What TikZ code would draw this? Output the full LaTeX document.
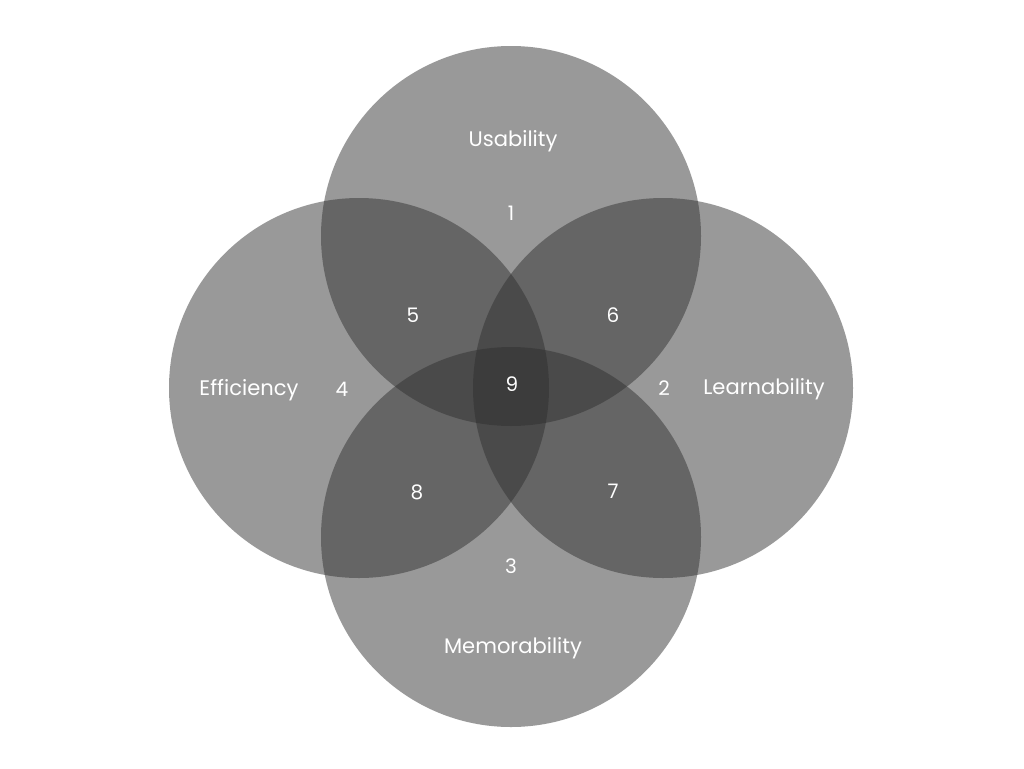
\documentclass[tikz,border=0pt]{standalone}
\usepackage{fontspec}
\setmainfont{Poppins}
\definecolor{setfill}{RGB}{47,47,47}
\begin{document}
\begin{tikzpicture}[x=0.75pt,y=-0.75pt,
  setcircle/.style={circle,minimum size=285pt,inner sep=0pt,fill=setfill,fill opacity=0.485,draw=none},
  lbl/.style={text=white,font=\fontsize{15.8}{18}\selectfont,inner sep=0pt},
  num/.style={text=white,font=\fontsize{15}{17}\selectfont,inner sep=0pt}]
\useasboundingbox[fill=white] (0,0) rectangle (1024,768);
\node[setcircle] (usab) at (511,236) {};
\node[setcircle] (effi) at (359,388) {};
\node[setcircle] (lear) at (663,388) {};
\node[setcircle] (memo) at (511,537) {};
\node[lbl] (tU) at (513,141) {Usability};
\node[lbl] (tE) at (249,390) {Efficiency};
\node[lbl] (tL) at (764,389) {Learnability};
\node[lbl] (tM) at (513,648) {Memorability};
\node[num] (n1) at (511,213) {1};
\node[num] (n2) at (664,388) {2};
\node[num] (n3) at (511,566) {3};
\node[num] (n4) at (342,389) {4};
\node[num] (n5) at (413,315) {5};
\node[num] (n6) at (613,315) {6};
\node[num] (n7) at (613,491) {7};
\node[num] (n8) at (417,492) {8};
\node[num] (n9) at (512,384) {9};
\end{tikzpicture}
\end{document}
